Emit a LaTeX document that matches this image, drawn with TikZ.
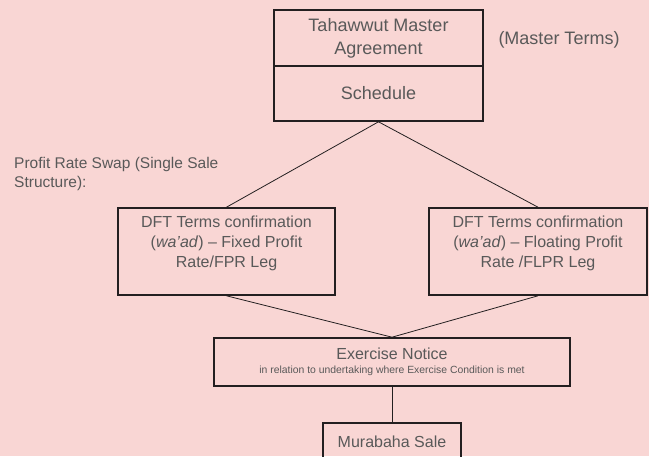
\documentclass[tikz,border=0pt]{standalone}
\usepackage{fontspec}
\setmainfont{Liberation Sans}
\usepackage{xcolor}
\usepackage{tikz}

\definecolor{bgpink}{RGB}{249,214,212}
\definecolor{txtgray}{RGB}{89,89,89}
\definecolor{edge}{RGB}{35,31,32}

\tikzset{
	termbox/.style={draw=edge, line width=1.6pt, text=txtgray, align=center, inner sep=0pt},
	link/.style={edge, line width=0.8pt}
}

\begin{document}
\begin{tikzpicture}[x=1pt,y=-1pt]
	\fill[bgpink] (0,0) rectangle (649,456);
	\useasboundingbox (0,0) rectangle (649,456);
	
	\node[termbox, minimum width=209pt, minimum height=56pt, font=\fontsize{18}{23}\selectfont] (master) at (378.5,38) {Tahawwut Master\\Agreement};
	\node[termbox, minimum width=209pt, minimum height=55pt, font=\fontsize{18}{23}\selectfont] (schedule) at (378.5,93.5) {Schedule};
	\node[text=txtgray, font=\fontsize{18}{23}\selectfont] (terms) at (559,40) {(Master Terms)};
	
	\node[text=txtgray, align=left, anchor=north west, inner sep=0pt, font=\fontsize{15.5}{19}\selectfont] (swap) at (14,157) {Profit Rate Swap (Single Sale\\Structure):};
	
	\node[termbox, minimum width=217pt, minimum height=87pt, text depth=20pt, font=\fontsize{16}{20}\selectfont] (fixed) at (226.5,251.5) {DFT Terms confirmation\\(\textit{wa'ad}) -- Fixed Profit\\Rate/FPR Leg};
	\node[termbox, minimum width=218pt, minimum height=87pt, text depth=20pt, font=\fontsize{16}{20}\selectfont] (floating) at (538,251.5) {DFT Terms confirmation\\(\textit{wa'ad}) -- Floating Profit\\Rate /FLPR Leg};
	
	\node[termbox, minimum width=356pt, minimum height=48pt, font=\fontsize{16}{20}\selectfont] (notice) at (392,362) {Exercise Notice\\[-6pt]{\fontsize{10.4}{12}\selectfont in relation to undertaking where Exercise Condition is met}};
	\node[termbox, minimum width=138pt, minimum height=38pt, font=\fontsize{16}{20}\selectfont] (sale) at (392,442) {Murabaha Sale};
	
	\draw[link] (schedule.south) -- (fixed.north);
	\draw[link] (schedule.south) -- (floating.north);
	\draw[link] (fixed.south) -- (notice.north);
	\draw[link] (floating.south) -- (notice.north);
	\draw[link] (notice.south) -- (sale.north);
\end{tikzpicture}
\end{document}
